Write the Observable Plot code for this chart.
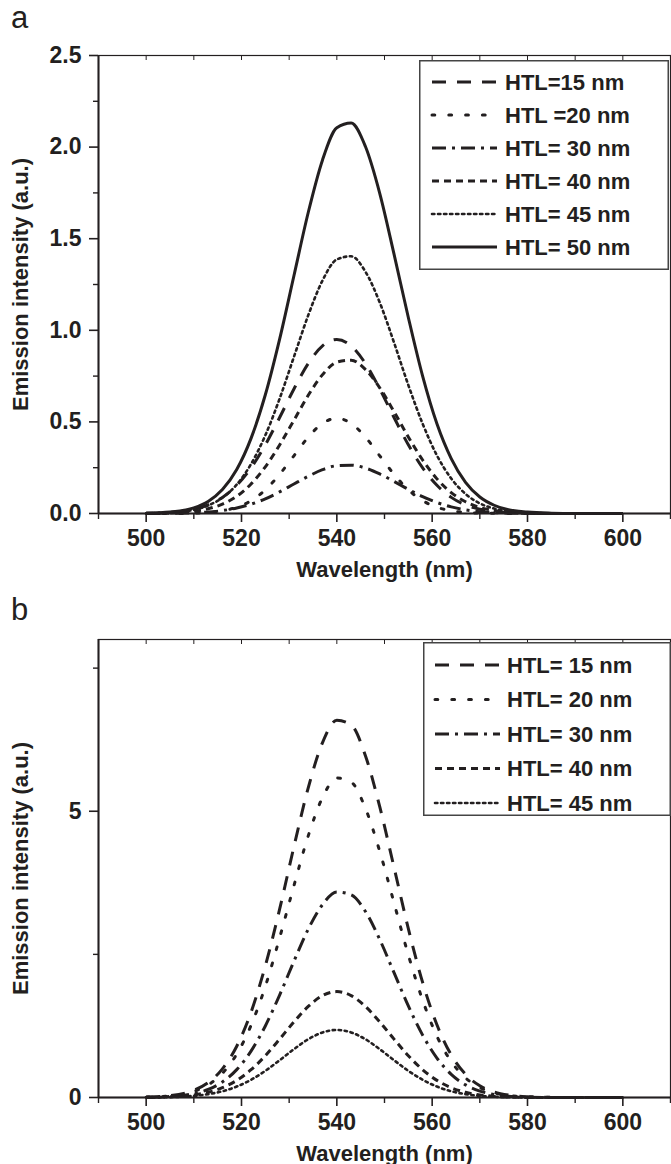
<!DOCTYPE html>
<html><head><meta charset="utf-8">
<script src="https://cdn.jsdelivr.net/npm/d3@7"></script>
<script src="https://cdn.jsdelivr.net/npm/@observablehq/plot@0.6"></script>
<style>
body{margin:0;background:#fff;font-family:"Liberation Sans",Arial,sans-serif;color:#231f20;}
#wrap{position:relative;width:671px;height:1164px;overflow:hidden;background:#fff;}
.panel{position:absolute;left:0;}
.plabel{position:absolute;font-size:31px;line-height:1;color:#231f20;font-family:"Liberation Sans",Arial,sans-serif;}
.legend{position:absolute;background:#fff;}
</style></head><body><div id="wrap"></div><script>
// ---------- data ----------
const wavelength = [500,505,510,513,516,519,522,525,528,531,534,537,540,543,546,549,552,555,558,561,564,567,570,573,576,580,585,590,600];

const labelsA = ["HTL=15 nm","HTL =20 nm","HTL= 30 nm","HTL= 40 nm","HTL= 45 nm","HTL= 50 nm"];
const a15 = [0.001,0.006,0.023,0.047,0.088,0.154,0.249,0.375,0.524,0.680,0.819,0.915,0.950,0.915,0.819,0.680,0.524,0.375,0.249,0.154,0.088,0.047,0.023,0.011,0.004,0.001,0,0,0];
const a20 = [0,0,0.002,0.006,0.015,0.034,0.070,0.129,0.214,0.315,0.417,0.492,0.520,0.492,0.417,0.315,0.214,0.129,0.070,0.034,0.015,0.006,0.002,0.001,0,0,0,0,0];
const a30 = [0,0.001,0.004,0.008,0.016,0.030,0.051,0.080,0.118,0.161,0.203,0.239,0.261,0.264,0.248,0.216,0.175,0.132,0.092,0.060,0.036,0.020,0.010,0.005,0.002,0.001,0,0,0];
const a40 = [0.001,0.003,0.012,0.026,0.051,0.094,0.161,0.255,0.374,0.509,0.645,0.758,0.826,0.837,0.786,0.686,0.556,0.418,0.292,0.189,0.114,0.064,0.033,0.016,0.007,0.002,0,0,0];
const a45 = [0.001,0.005,0.020,0.044,0.086,0.158,0.270,0.427,0.627,0.855,1.082,1.272,1.387,1.404,1.320,1.152,0.933,0.701,0.490,0.317,0.191,0.107,0.055,0.027,0.012,0.004,0.001,0,0];
const a50 = [0.002,0.008,0.031,0.066,0.131,0.240,0.410,0.648,0.952,1.298,1.643,1.930,2.105,2.131,2.003,1.748,1.416,1.070,0.750,0.490,0.300,0.170,0.090,0.045,0.020,0.008,0.002,0,0];

const labelsB = ["HTL= 15 nm","HTL= 20 nm","HTL= 30 nm","HTL= 40 nm","HTL= 45 nm"];
const b15 = [0.007,0.031,0.125,0.26,0.50,0.896,1.49,2.30,3.29,4.38,5.41,6.20,6.59,6.51,5.97,5.08,4.02,2.95,2.01,1.27,0.743,0.405,0.205,0.096,0.042,0.013,0.002,0,0];
const b20 = [0.006,0.026,0.106,0.22,0.423,0.758,1.26,1.94,2.79,3.70,4.57,5.24,5.58,5.51,5.05,4.30,3.40,2.49,1.70,1.07,0.629,0.343,0.174,0.081,0.035,0.011,0.002,0,0];
const b30 = [0.004,0.017,0.068,0.141,0.272,0.487,0.81,1.25,1.79,2.38,2.94,3.37,3.59,3.54,3.25,2.76,2.18,1.60,1.09,0.689,0.404,0.22,0.112,0.052,0.023,0.007,0.001,0,0];
const b40 = [0.002,0.012,0.045,0.091,0.171,0.299,0.485,0.730,1.02,1.32,1.59,1.78,1.85,1.78,1.59,1.32,1.02,0.730,0.485,0.299,0.171,0.091,0.045,0.021,0.009,0.002,0,0,0];
const b45 = [0.002,0.007,0.029,0.058,0.109,0.191,0.309,0.466,0.651,0.844,1.017,1.137,1.18,1.137,1.017,0.844,0.651,0.466,0.309,0.191,0.109,0.058,0.029,0.013,0.006,0.002,0,0,0];

const xTicksMajor = [500,520,540,560,580,600];
const xTicksMinor = [490,510,530,550,570,590,610];
const xTicksTop = [500,510,520,530,540,550,560,570,580,590,600];
const yTicksA = [0,0.5,1.0,1.5,2.0,2.5];
const yMinorA = [0.25,0.75,1.25,1.75,2.25];
const yTicksB = [0,5];
const yMinorB = [2.5,7.5];

// ---------- styles ----------
const INK = "#231f20";
const dashStyles = ["14,11", "2.8,14", "14,6,3,6", "7,5", "2.4,3.6", null];
const lineWidths = [3, 3, 3, 3, 2.6, 3];

const wrap = document.getElementById("wrap");

function table(series, labels) {
  return series.map((vals, i) => wavelength.map((w, j) => ({wavelength: w, value: vals[j], series: labels[i]})));
}

function panel({series, labels, yDomain, yTicks, yMinor, yFormat, top, height, mTop, mBottom}) {
  const rows = table(series, labels);
  const font = {fontSize: 23, fontWeight: "bold", fill: INK};
  const titleFont = {fontSize: 22, fontWeight: "bold", fill: INK};
  const marks = [
    Plot.frame({stroke: INK, strokeWidth: 1.2}),
    ...rows.map((r, i) => Plot.line(r, {
      x: "wavelength", y: "value", curve: "monotone-x",
      stroke: INK, strokeWidth: lineWidths[i],
      strokeDasharray: dashStyles[i] ?? undefined,
      strokeLinecap: dashStyles[i] && dashStyles[i].startsWith("2") ? "round" : "butt"
    })),
    Plot.ruleY([yDomain[0]], {stroke: INK, strokeWidth: 2}),
    Plot.ruleX([490], {stroke: INK, strokeWidth: 2}),
    Plot.axisX({ticks: xTicksMajor, tickSize: 9, tickPadding: 7, strokeWidth: 1.6, ...font, label: null}),
    Plot.axisX({ticks: xTicksMinor, tickSize: 6, strokeWidth: 1.4, tickFormat: () => "", ...titleFont,
      label: "Wavelength (nm)", labelAnchor: "center", labelOffset: 63, labelArrow: "none"}),
    Plot.axisX({anchor: "top", ticks: xTicksTop, tickSize: -4, strokeWidth: 1, tickFormat: () => "", label: null}),
    Plot.axisY({ticks: yTicks, tickSize: 9, tickPadding: 8, strokeWidth: 1.6, tickFormat: yFormat, ...font, label: null}),
    Plot.axisY({ticks: yMinor, tickSize: 5, strokeWidth: 1.4, tickFormat: () => "", ...titleFont,
      label: "Emission intensity (a.u.)", labelAnchor: "center", labelOffset: 86, labelArrow: "none"})
  ];
  const svg = Plot.plot({
    width: 671, height,
    marginLeft: 98, marginRight: 1, marginTop: mTop, marginBottom: mBottom,
    style: {fontFamily: '"Liberation Sans", Arial, sans-serif', color: INK, background: "transparent", overflow: "visible"},
    x: {domain: [490, 610]},
    y: {domain: yDomain},
    marks
  });
  svg.classList.add("panel");
  svg.style.top = top + "px";
  wrap.appendChild(svg);
}

function legend(labels, {left, top, width, height, firstRow, rowStep, sx0, sx1, tx}) {
  const svg = d3.create("svg").attr("class", "legend").attr("width", width).attr("height", height)
    .style("left", left + "px").style("top", top + "px");
  svg.append("rect").attr("x", 0.75).attr("y", 0.75).attr("width", width - 1.5).attr("height", height - 1.5)
    .attr("fill", "#fff").attr("stroke", "#444").attr("stroke-width", 1.5);
  labels.forEach((lab, i) => {
    const y = firstRow + i * rowStep;
    svg.append("line").attr("x1", sx0).attr("x2", sx1).attr("y1", y).attr("y2", y)
      .attr("stroke", INK).attr("stroke-width", lineWidths[i])
      .attr("stroke-dasharray", dashStyles[i])
      .attr("stroke-linecap", dashStyles[i] && dashStyles[i].startsWith("2") ? "round" : "butt");
    svg.append("text").attr("x", tx).attr("y", y).attr("dy", "0.36em")
      .attr("font-family", '"Liberation Sans", Arial, sans-serif').attr("font-size", 22).attr("font-weight", "bold")
      .attr("fill", INK).text(lab);
  });
  wrap.appendChild(svg.node());
}

panel({series: [a15, a20, a30, a40, a45, a50], labels: labelsA, yDomain: [0, 2.5], yTicks: yTicksA, yMinor: yMinorA,
  yFormat: d3.format(".1f"), top: 0, height: 590, mTop: 55, mBottom: 77});
panel({series: [b15, b20, b30, b40, b45], labels: labelsB, yDomain: [0, 8], yTicks: yTicksB, yMinor: yMinorB,
  yFormat: d3.format("d"), top: 590, height: 574, mTop: 49, mBottom: 67});

legend(labelsA, {left: 419, top: 60, width: 250, height: 210, firstRow: 22, rowStep: 33, sx0: 13, sx1: 78, tx: 86});
legend(labelsB, {left: 423, top: 642, width: 248, height: 174, firstRow: 23, rowStep: 34.5, sx0: 12, sx1: 77, tx: 84});

const la = document.createElement("div"); la.className = "plabel"; la.textContent = "a";
la.style.left = "11px"; la.style.top = "2px"; wrap.appendChild(la);
const lb = document.createElement("div"); lb.className = "plabel"; lb.textContent = "b";
lb.style.left = "11px"; lb.style.top = "594px"; wrap.appendChild(lb);
</script></body></html>
